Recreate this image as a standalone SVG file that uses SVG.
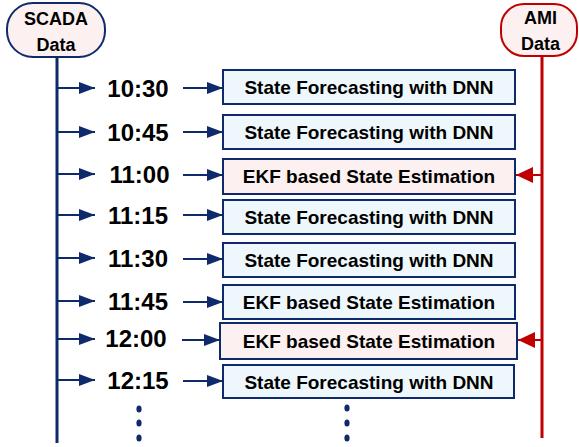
<svg xmlns="http://www.w3.org/2000/svg" width="579" height="447" viewBox="0 0 579 447">
<defs>
<marker id="ah" markerUnits="userSpaceOnUse" viewBox="0 0 16 12" refX="16" refY="6" markerWidth="16" markerHeight="12" orient="auto"><path d="M0,0 L16,6 L0,12 Z" fill="#0f2a6b"/></marker>
<marker id="ahr" markerUnits="userSpaceOnUse" viewBox="0 0 17 16" refX="17" refY="8" markerWidth="17" markerHeight="16" orient="auto"><path d="M0,0 L17,8 L0,16 Z" fill="#c00000"/></marker>
<style>
.pill{fill:#fdf0f0;stroke-width:2}
.box{stroke:#0f2a6b;stroke-width:2}
.fc{fill:#eef8fc}
.ekf{fill:#fdf0f0}
.t{font-family:"Liberation Sans",Arial,sans-serif;font-weight:bold;fill:#000}
.lbl{font-size:19px;text-anchor:middle}
.tm{font-size:24px;text-anchor:middle}
.src{font-size:18px;text-anchor:middle}
.ln{stroke:#0f2a6b;stroke-width:2;fill:none}
.lr{stroke:#c00000;stroke-width:2;fill:none}
.dot{fill:#0f2a6b}
</style>
</defs>
<g id="scada">
<rect class="pill" x="7" y="3" width="98" height="54" rx="26" ry="26" stroke="#0f2a6b"/>
<text class="t src" x="56" y="25">SCADA</text>
<text class="t src" x="56" y="51">Data</text>
</g>
<g id="ami">
<rect class="pill" x="501" y="4" width="76" height="52" rx="23" ry="23" stroke="#c00000"/>
<text class="t src" x="540.5" y="24">AMI</text>
<text class="t src" x="540.5" y="50">Data</text>
</g>
<g id="connectors">
<line x1="57" y1="57" x2="57" y2="443" stroke="#0f2a6b" stroke-width="3"/>
<line x1="542" y1="56" x2="542" y2="438" stroke="#c00000" stroke-width="3"/>
<line class="ln" x1="57" y1="88" x2="95" y2="88" marker-end="url(#ah)"/>
<line class="ln" x1="57" y1="132" x2="95" y2="132" marker-end="url(#ah)"/>
<line class="ln" x1="57" y1="174" x2="95" y2="174" marker-end="url(#ah)"/>
<line class="ln" x1="57" y1="215" x2="95" y2="215" marker-end="url(#ah)"/>
<line class="ln" x1="57" y1="258" x2="95" y2="258" marker-end="url(#ah)"/>
<line class="ln" x1="57" y1="301" x2="95" y2="301" marker-end="url(#ah)"/>
<line class="ln" x1="57" y1="339" x2="95" y2="339" marker-end="url(#ah)"/>
<line class="ln" x1="57" y1="380" x2="95" y2="380" marker-end="url(#ah)"/>
<line class="ln" x1="183" y1="88" x2="223" y2="88" marker-end="url(#ah)"/>
<line class="ln" x1="183" y1="132" x2="223" y2="132" marker-end="url(#ah)"/>
<line class="ln" x1="183" y1="175" x2="223" y2="175" marker-end="url(#ah)"/>
<line class="ln" x1="183" y1="215" x2="223" y2="215" marker-end="url(#ah)"/>
<line class="ln" x1="183" y1="259" x2="223" y2="259" marker-end="url(#ah)"/>
<line class="ln" x1="183" y1="302" x2="223" y2="302" marker-end="url(#ah)"/>
<line class="ln" x1="182" y1="340" x2="220" y2="340" marker-end="url(#ah)"/>
<line class="ln" x1="183" y1="381" x2="223" y2="381" marker-end="url(#ah)"/>
<line class="lr" x1="542" y1="175" x2="516" y2="175" marker-end="url(#ahr)"/>
<line class="lr" x1="542" y1="340" x2="518" y2="340" marker-end="url(#ahr)"/>
</g>
<g id="t1030"><text class="t tm" x="138" y="97">10:30</text></g>
<g id="t1045"><text class="t tm" x="138" y="141">10:45</text></g>
<g id="t1100"><text class="t tm" x="139.5" y="183">11:00</text></g>
<g id="t1115"><text class="t tm" x="138" y="224">11:15</text></g>
<g id="t1130"><text class="t tm" x="138" y="267">11:30</text></g>
<g id="t1145"><text class="t tm" x="138" y="310">11:45</text></g>
<g id="t1200"><text class="t tm" x="136" y="347">12:00</text></g>
<g id="t1215"><text class="t tm" x="138" y="389">12:15</text></g>
<g id="b1030"><rect class="box fc" x="223" y="70" width="292" height="34"/><text class="t lbl" x="369" y="94">State Forecasting with DNN</text></g>
<g id="b1045"><rect class="box fc" x="223" y="115" width="292" height="34"/><text class="t lbl" x="369" y="139">State Forecasting with DNN</text></g>
<g id="b1100"><rect class="box ekf" x="223" y="159" width="292" height="35"/><text class="t lbl" x="369" y="183">EKF based State Estimation</text></g>
<g id="b1115"><rect class="box fc" x="223" y="200" width="292" height="34"/><text class="t lbl" x="369" y="224">State Forecasting with DNN</text></g>
<g id="b1130"><rect class="box fc" x="223" y="243" width="292" height="34"/><text class="t lbl" x="369" y="267">State Forecasting with DNN</text></g>
<g id="b1145"><rect class="box fc" x="223" y="285" width="292" height="34"/><text class="t lbl" x="369" y="309">EKF based State Estimation</text></g>
<g id="b1200"><rect class="box ekf" x="220" y="323" width="297" height="36"/><text class="t lbl" x="369" y="348">EKF based State Estimation</text></g>
<g id="b1215"><rect class="box fc" x="223" y="365" width="291" height="33"/><text class="t lbl" x="369" y="389">State Forecasting with DNN</text></g>
<g id="dots">
<ellipse class="dot" cx="139" cy="409" rx="2.6" ry="3.6"/>
<ellipse class="dot" cx="139" cy="423" rx="2.6" ry="3.6"/>
<ellipse class="dot" cx="139" cy="438" rx="2.6" ry="3.6"/>
<ellipse class="dot" cx="347" cy="408" rx="2.6" ry="3.6"/>
<ellipse class="dot" cx="347" cy="423" rx="2.6" ry="3.6"/>
<ellipse class="dot" cx="347" cy="438" rx="2.6" ry="3.6"/>
</g>
</svg>
